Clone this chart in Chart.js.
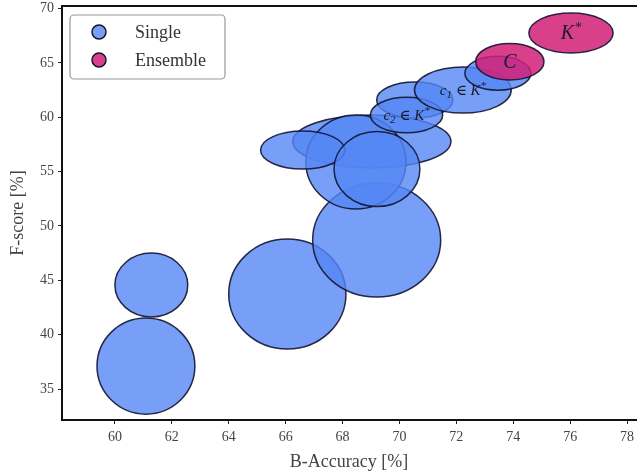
<!DOCTYPE html>
<html>
<head>
<meta charset="utf-8">
<script src="https://cdn.jsdelivr.net/npm/chart.js@4.4.1/dist/chart.umd.min.js"></script>
<style>
  body { margin: 0; background: #fff; }
  #wrap { width: 637px; height: 476px; }
</style>
</head>
<body>
<div id="wrap"><canvas id="grafico" width="637" height="476"></canvas></div>
<script>
// ======== Dados ========
const xTicks = [60, 62, 64, 66, 68, 70, 72, 74, 76, 78];
const yTicks = [35, 40, 45, 50, 55, 60, 65, 70];

// Single (centro e semi-eixos em unidades dos dados)
const singleX  = [66.06, 61.09, 61.28, 69.20, 69.03, 68.47, 66.60, 69.21, 70.54, 70.25, 72.23, 73.46];
const singleY  = [43.74, 37.11, 44.56, 48.70, 57.76, 55.88, 56.98, 55.23, 61.58, 60.20, 62.50, 64.04];
const singleRx = [2.06, 1.72, 1.28, 2.25, 2.78, 1.76, 1.48, 1.51, 1.34, 1.27, 1.70, 1.16];
const singleRy = [5.06, 4.42, 2.94, 5.24, 2.44, 4.32, 1.75, 3.45, 1.66, 1.63, 2.12, 1.56];

// Ensemble
const ensembleX  = [73.88, 76.03];
const ensembleY  = [65.11, 67.75];
const ensembleRx = [1.20, 1.48];
const ensembleRy = [1.68, 1.84];

// Rotulos: [serie, indice, partes do texto]
const rotulos = [
  ["single", 9, [["c", "i"], ["2", "sub"], [" \u2208 ", "n"], ["K", "i"], ["*", "sup"]]],
  ["single", 10, [["c", "i"], ["1", "sub"], [" \u2208 ", "n"], ["K", "i"], ["*", "sup"]]],
  ["ensemble", 0, [["C", "i"]]],
  ["ensemble", 1, [["K", "i"], ["*", "sup"]]],
];

const corSingle = "rgba(85,135,245,0.8)";
const corEnsemble = "rgba(210,30,120,0.85)";
const serif = "'Liberation Serif', 'DejaVu Serif', serif";

function pontos(xs, ys, rxs, rys) {
  return xs.map((x, i) => ({ x, y: ys[i], rx: rxs[i], ry: rys[i] }));
}

// ======== Plugin das elipses ========
const elipses = {
  id: "elipses",
  beforeDatasetsDraw(chart) {
    const { ctx, chartArea, scales } = chart;
    const sx = scales.x, sy = scales.y;
    ctx.save();
    ctx.beginPath();
    ctx.rect(chartArea.left, chartArea.top, chartArea.right - chartArea.left, chartArea.bottom - chartArea.top);
    ctx.clip();
    chart.data.datasets.forEach((ds) => {
      ds.data.forEach((p) => {
        const cx = sx.getPixelForValue(p.x);
        const cy = sy.getPixelForValue(p.y);
        const rx = Math.abs(sx.getPixelForValue(p.x + p.rx) - cx);
        const ry = Math.abs(sy.getPixelForValue(p.y + p.ry) - cy);
        ctx.beginPath();
        ctx.ellipse(cx, cy, rx, ry, 0, 0, Math.PI * 2);
        ctx.fillStyle = ds.backgroundColor;
        ctx.fill();
        ctx.lineWidth = 1.5;
        ctx.strokeStyle = "rgba(20,20,50,0.9)";
        ctx.stroke();
      });
    });

    // rotulos
    rotulos.forEach(([serie, idx, partes]) => {
      const ds = chart.data.datasets[serie === "single" ? 0 : 1];
      const p = ds.data[idx];
      const cx = sx.getPixelForValue(p.x);
      const cy = sy.getPixelForValue(p.y);
      const base = serie === "ensemble" ? 20 : 15;
      const fonte = (tipo) => {
        if (tipo === "i") return "italic " + base + "px " + serif;
        if (tipo === "n") return base + "px " + serif;
        return "italic " + Math.round(base * 0.7) + "px " + serif;
      };
      let total = 0;
      partes.forEach(([t, tipo]) => { ctx.font = fonte(tipo); total += ctx.measureText(t).width; });
      let x = cx - total / 2;
      ctx.fillStyle = "#1a1a2a";
      ctx.textBaseline = "middle";
      ctx.textAlign = "left";
      partes.forEach(([t, tipo]) => {
        ctx.font = fonte(tipo);
        let dy = 0;
        if (tipo === "sub") dy = base * 0.25;
        if (tipo === "sup") dy = -base * 0.3;
        ctx.fillText(t, x, cy + 1 + dy);
        x += ctx.measureText(t).width;
      });
    });
    ctx.restore();
  },
  afterDraw(chart) {
    const { ctx, chartArea } = chart;
    ctx.save();
    // linha superior (a direita fica fora da imagem)
    ctx.strokeStyle = "#111";
    ctx.lineWidth = 2;
    ctx.beginPath();
    ctx.moveTo(chartArea.left, chartArea.top);
    ctx.lineTo(chartArea.right + 2, chartArea.top);
    ctx.stroke();

    // legenda
    const lx = 70, ly = 15, lw = 155, lh = 64;
    ctx.beginPath();
    ctx.roundRect(lx, ly, lw, lh, 4);
    ctx.fillStyle = "rgba(255,255,255,0.85)";
    ctx.fill();
    ctx.lineWidth = 1.2;
    ctx.strokeStyle = "#999";
    ctx.stroke();
    const itens = [["Single", corSingle], ["Ensemble", corEnsemble]];
    itens.forEach(([nome, cor], i) => {
      const y = 32 + i * 28;
      ctx.beginPath();
      ctx.arc(99, y, 7, 0, Math.PI * 2);
      ctx.fillStyle = cor;
      ctx.fill();
      ctx.lineWidth = 1.5;
      ctx.strokeStyle = "#15152a";
      ctx.stroke();
      ctx.fillStyle = "#333";
      ctx.font = "18px " + serif;
      ctx.textBaseline = "middle";
      ctx.textAlign = "left";
      ctx.fillText(nome, 135, y + 1);
    });

    // titulos dos eixos
    ctx.fillStyle = "#444";
    ctx.font = "18px " + serif;
    ctx.textAlign = "center";
    ctx.textBaseline = "middle";
    ctx.fillText("B-Accuracy [%]", 349, 462);
    ctx.translate(18, (chartArea.top + chartArea.bottom) / 2);
    ctx.rotate(-Math.PI / 2);
    ctx.fillText("F-score [%]", 0, 0);
    ctx.restore();
  },
};

// ======== Grafico ========
const ctx = document.getElementById("grafico").getContext("2d");
new Chart(ctx, {
  type: "scatter",
  data: {
    datasets: [
      { label: "Single", data: pontos(singleX, singleY, singleRx, singleRy), backgroundColor: corSingle, pointRadius: 0, pointHoverRadius: 0 },
      { label: "Ensemble", data: pontos(ensembleX, ensembleY, ensembleRx, ensembleRy), backgroundColor: corEnsemble, pointRadius: 0, pointHoverRadius: 0 },
    ],
  },
  options: {
    responsive: false,
    animation: false,
    layout: { padding: { top: 6, right: 0, left: 0, bottom: 0 } },
    plugins: { legend: { display: false }, tooltip: { enabled: false } },
    scales: {
      x: {
        type: "linear",
        min: 58.14,
        max: 78.35,
        afterBuildTicks: (s) => { s.ticks = xTicks.map((v) => ({ value: v })); },
        afterFit: (s) => { s.height = 56; s.paddingLeft = 0; s.paddingRight = 0; },
        grid: { drawOnChartArea: false, drawTicks: true, tickLength: 4, color: "#222", lineWidth: 1 },
        border: { color: "#111", width: 2 },
        ticks: { color: "#444", padding: 5, font: { family: serif, size: 14 } },
      },
      y: {
        type: "linear",
        min: 32.15,
        max: 70.23,
        afterBuildTicks: (s) => { s.ticks = yTicks.map((v) => ({ value: v })); },
        afterFit: (s) => { s.width = 62; s.paddingTop = 0; s.paddingBottom = 0; },
        grid: { drawOnChartArea: false, drawTicks: true, tickLength: 4, color: "#222", lineWidth: 1 },
        border: { color: "#111", width: 2 },
        ticks: { color: "#444", padding: 4, font: { family: serif, size: 14 } },
      },
    },
  },
  plugins: [elipses],
});
</script>
</body>
</html>
